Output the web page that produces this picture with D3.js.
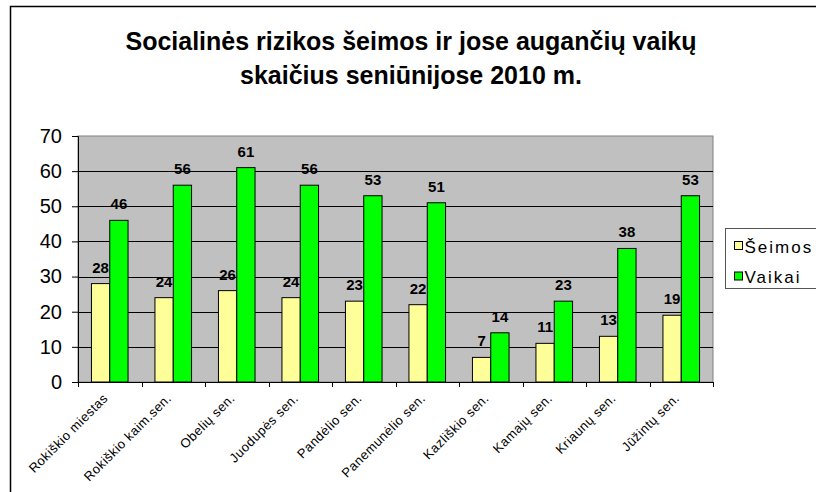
<!DOCTYPE html>
<html>
<head>
<meta charset="utf-8">
<script src="https://cdn.jsdelivr.net/npm/d3@7"></script>
<style>
  body { margin: 0; background: #fff; }
  svg { display: block; font-family: Arial, "Liberation Sans", sans-serif; }
</style>
</head>
<body>
<div id="chart"></div>
<script>
let categories = [
  "Rokiškio miestas",
  "Rokiškio kaim.sen.",
  "Obelių sen.",
  "Juodupės sen.",
  "Pandėlio sen.",
  "Panemunėlio sen.",
  "Kazliškio sen.",
  "Kamajų sen.",
  "Kriaunų sen.",
  "Jūžintų sen."
];
let seimos = [28, 24, 26, 24, 23, 22, 7, 11, 13, 19];
let vaikai = [46, 56, 61, 56, 53, 51, 14, 23, 38, 53];
let seriesNames = ["Šeimos", "Vaikai"];
let seriesColors = ["#ffff99", "#00ff00"];
let yTicks = [0, 10, 20, 30, 40, 50, 60, 70];

function renderChart(){
  let width = 816, height = 492;
  let plot = {left: 78, right: 713, top: 136, bottom: 382};

  let svg = d3.select("#chart")
    .append("svg")
    .attr("width", width)
    .attr("height", height);

  // outer frame (runs off the right and bottom edge)
  svg.append("rect")
    .attr("x", 10.5).attr("y", 6.5)
    .attr("width", 900).attr("height", 600)
    .attr("fill", "none")
    .attr("stroke", "#000")
    .attr("stroke-width", 1.5);

  // title
  let title = svg.append("text")
    .attr("text-anchor", "middle")
    .style("font-size", "25px")
    .style("font-weight", "bold")
  title.append("tspan").attr("x", 411).attr("y", 50).text("Socialinės rizikos šeimos ir jose augančių vaikų")
  title.append("tspan").attr("x", 411).attr("y", 84).text("skaičius seniūnijose 2010 m.")

  let x = d3.scaleBand()
    .domain(categories)
    .range([plot.left, plot.right])
    .paddingInner(0)
    .paddingOuter(0);

  let barW = 18.3;
  let pairW = barW * 2;

  let y = d3.scaleLinear()
    .domain([0, 70])
    .range([plot.bottom, plot.top]);

  // plot background
  svg.append("rect")
    .attr("x", plot.left).attr("y", plot.top)
    .attr("width", plot.right - plot.left)
    .attr("height", plot.bottom - plot.top)
    .attr("fill", "#c0c0c0")
    .attr("stroke", "#808080")
    .attr("stroke-width", 1);

  // gridlines
  svg.append("g")
    .selectAll("line")
    .data(yTicks.filter(d => d > 0 && d < 70))
    .enter()
    .append("line")
      .attr("x1", plot.left).attr("x2", plot.right)
      .attr("y1", d => Math.round(y(d)) + 0.5)
      .attr("y2", d => Math.round(y(d)) + 0.5)
      .attr("stroke", "#000")
      .attr("stroke-width", 1);

  // y axis
  let yAxis = d3.axisLeft(y)
    .tickValues(yTicks)
    .tickSize(6)
    .tickPadding(10);
  let yg = svg.append("g")
    .attr("transform", `translate(${plot.left},0)`)
    .call(yAxis);
  yg.select(".domain").attr("stroke", "#000");
  yg.selectAll(".tick line").attr("stroke", "#000");
  yg.selectAll(".tick text")
    .style("font-size", "20px")
    .style("font-family", "Arial, 'Liberation Sans', sans-serif")
    .attr("fill", "#000");

  // bars
  let groups = svg.append("g")
    .selectAll("g")
    .data(categories)
    .enter()
    .append("g")
      .attr("transform", d => `translate(${x(d) + (x.bandwidth() - pairW) / 2},0)`);

  [seimos, vaikai].forEach(function(values, s){
    groups.append("rect")
      .attr("x", s * barW)
      .attr("y", (d, i) => y(values[i]))
      .attr("width", barW)
      .attr("height", (d, i) => y(0) - y(values[i]))
      .attr("fill", seriesColors[s])
      .attr("stroke", "#000")
      .attr("stroke-width", 1);

    groups.append("text")
      .attr("x", s * barW + barW / 2)
      .attr("y", (d, i) => y(values[i]) - 11)
      .attr("text-anchor", "middle")
      .style("font-size", "15px")
      .style("font-weight", "bold")
      .text((d, i) => values[i]);
  });

  // x axis
  let xg = svg.append("g")
    .attr("transform", `translate(0,${plot.bottom})`);
  xg.append("line")
    .attr("x1", plot.left).attr("x2", plot.right)
    .attr("y1", 0.5).attr("y2", 0.5)
    .attr("stroke", "#000");
  let bounds = categories.map(d => x(d)).concat([plot.right]);
  xg.selectAll(".xtick")
    .data(bounds)
    .enter()
    .append("line")
      .attr("class", "xtick")
      .attr("x1", d => Math.round(d) + 0.5).attr("x2", d => Math.round(d) + 0.5)
      .attr("y1", 0).attr("y2", 5)
      .attr("stroke", "#000");
  xg.selectAll(".xlabel")
    .data(categories)
    .enter()
    .append("text")
      .attr("class", "xlabel")
      .attr("text-anchor", "end")
      .attr("transform", d => `translate(${x(d) + x.bandwidth() / 2 - 1},17) rotate(-45)`)
      .style("font-size", "13px")
      .style("letter-spacing", "0.5px")
      .text(d => d);

  // legend
  let legend = svg.append("g")
    .attr("transform", "translate(725.5,228.5)");
  legend.append("rect")
    .attr("width", 120).attr("height", 60)
    .attr("fill", "#fff")
    .attr("stroke", "#555")
    .attr("stroke-width", 1);
  seriesNames.forEach(function(name, s){
    legend.append("rect")
      .attr("x", 9).attr("y", 13 + s * 30.5)
      .attr("width", 8).attr("height", 8)
      .attr("fill", seriesColors[s])
      .attr("stroke", "#000");
    legend.append("text")
      .attr("x", 19).attr("y", 24 + s * 30.5)
      .style("font-size", "17px")
      .style("letter-spacing", "2px")
      .text(name);
  });
}

renderChart()
</script>
</body>
</html>
